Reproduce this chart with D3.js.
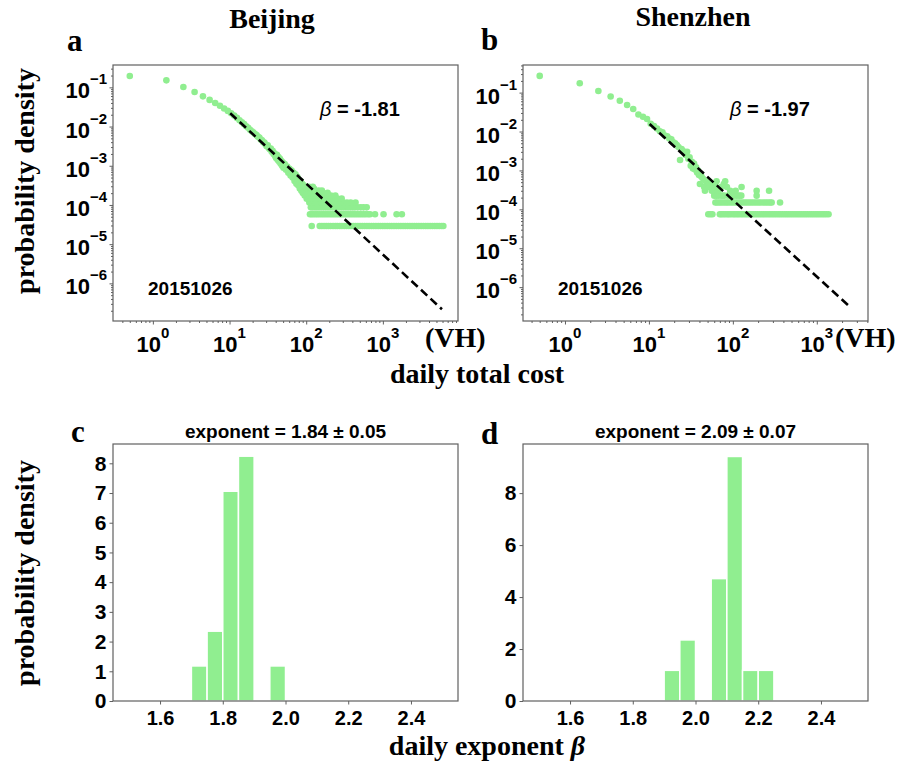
<!DOCTYPE html>
<html>
<head>
<meta charset="utf-8">
<script src="https://cdn.jsdelivr.net/npm/d3@7"></script>
<style>
  body { margin: 0; background: #fff; }
  svg { display: block; }
</style>
</head>
<body>
<svg id="chart"></svg>
<script>
// panel a: [daily total cost, probability density]
const beijingBody = [
  [0.5, 0.195], [1.5, 0.151], [2.5, 0.102], [3.5, 0.0759], [4.5, 0.0589], [5.5, 0.0479], [6.5, 0.0398], [7.5, 0.0339], [8.5, 0.0288], [9.5, 0.0251],
  [10.5, 0.0219], [11.5, 0.0191], [12.5, 0.0166], [13.5, 0.0145], [14.5, 0.0129], [15.5, 0.0115], [16.5, 0.0102], [17.5, 0.00933], [18.5, 0.00832], [19.5, 0.00759],
  [20.5, 0.00708], [21.5, 0.00646], [22.5, 0.00603], [23.5, 0.0055], [24.5, 0.00525], [25.5, 0.00468], [26.5, 0.00447], [27.5, 0.00398], [28.5, 0.00389], [29.5, 0.00347],
  [30.5, 0.00316], [31.5, 0.00331], [32.5, 0.00282], [33.5, 0.00263], [34.5, 0.00275], [35.5, 0.00229], [36.5, 0.0024], [37.5, 0.002], [38.5, 0.00209], [39.5, 0.00174],
  [40.5, 0.00158], [41.5, 0.00191], [42.5, 0.00141], [43.5, 0.00166], [44.5, 0.00126], [45.5, 0.00151], [46.5, 0.00112], [47.5, 0.00132], [48.5, 0.001], [49.5, 0.0012],
  [50.5, 0.000891], [52.5, 0.0011], [54.5, 0.000794], [56.5, 0.000955], [58.5, 0.000661], [60.5, 0.000832], [62.5, 0.000562], [64.5, 0.000759], [66.5, 0.000501], [68.5, 0.000661],
  [70.5, 0.000406], [72.5, 0.000603], [74.5, 0.000348], [76.5, 0.000525], [78.5, 0.000319], [80.5, 0.000435], [82.5, 0.000261], [84.5, 0.000406], [86.5, 0.000232], [88.5, 0.000348],
  [90.5, 0.000203], [92.5, 0.000319], [95.5, 0.000174], [98.5, 0.00029], [101.5, 0.000145], [104.5, 0.000261]
];
// tail: cost values sitting on each low-count density level
const beijingLevels = [2.9e-5, 5.8e-5, 8.7e-5, 1.16e-4, 1.45e-4, 1.74e-4, 2.03e-4, 2.32e-4, 2.61e-4, 2.9e-4];
const beijingRows = [
  [118, 150, 160, 171, 183, 195, 208, 224, 240, 255, 274, 292, 314, 336, 360, 384, 412, 441, 472, 505, 540, 578, 620, 662, 710, 758, 812, 870, 930, 996,
   1065, 1140, 1222, 1306, 1398, 1497, 1602, 1714, 1835, 1963, 2100, 2250, 2406, 2575, 2757, 2950, 3158, 3380, 3617, 3871, 4143, 4434, 4745, 5078, 5435, 5816, 6150],
  [112, 118, 125, 133, 141, 150, 160, 170, 181, 193, 206, 219, 233, 248, 264, 281, 299, 318, 339, 361, 384, 409, 435, 463, 493, 525, 559, 595, 640, 680, 790, 1020, 1510, 1770],
  [115, 122, 130, 138, 147, 157, 168, 180, 192, 205, 219, 234, 250, 268, 287, 307, 329, 352, 378, 405, 432, 470, 515, 560, 615],
  [110, 120, 131, 143, 156, 172, 188, 205, 226, 250, 277, 305, 340, 380, 440],
  [108, 117, 128, 140, 153, 168, 184, 203, 224, 255, 290],
  [105, 113, 124, 136, 150, 166, 182, 210, 240],
  [103, 111, 121, 133, 147, 163, 190],
  [107, 118, 130, 145, 160],
  [102, 115, 126],
  [109, 122]
];
const beijingFitCost = [10.2, 5900];
const beijingFitDensity = [0.0219, 2.19e-7];

// panel b
const shenzhenBody = [
  [0.5, 0.269], [1.5, 0.174], [2.5, 0.11], [3.5, 0.0794], [4.5, 0.0617], [5.5, 0.0479], [6.5, 0.038], [7.5, 0.0275], [8.5, 0.024], [9.5, 0.0209],
  [10.5, 0.0158], [11.5, 0.0138], [12.5, 0.012], [13.5, 0.0102], [14.5, 0.00955], [15.5, 0.00794], [16.5, 0.00759], [17.5, 0.00661], [18.5, 0.00631], [19.5, 0.00525],
  [20.5, 0.00501], [21.5, 0.00447], [22.5, 0.00398], [23.5, 0.00186], [24.5, 0.00355], [25.5, 0.00316], [26.5, 0.00275], [27.5, 0.00251], [28.5, 0.00302], [29.5, 0.002],
  [30.5, 0.00219], [31.5, 0.00132], [32.5, 0.00166], [33.5, 0.00112], [34.5, 0.00151], [35.5, 0.00105], [36.5, 0.0012], [37.5, 0.000891], [38.5, 0.001], [39.5, 0.000759],
  [40.5, 0.00045], [41.5, 0.000794], [42.5, 0.000675], [44.5, 0.0006], [45.5, 0.000375], [46.5, 0.0003], [47.5, 0.000525], [49.5, 0.00045], [51.5, 0.000525],
  [53.5, 0.000375], [56.5, 0.00045], [58.5, 0.0003], [62.5, 0.000375], [66.5, 0.0003]
];
const shenzhenLevels = [7.5e-5, 1.5e-4, 2.25e-4, 3e-4, 3.75e-4, 4.5e-4, 5.25e-4];
const shenzhenRows = [
  [51, 54, 57, 70, 73, 77, 81, 86, 90, 95, 101, 106, 112, 118, 125, 132, 140, 148, 157, 166, 176, 186, 197, 208, 220, 233, 247, 262, 277, 293,
   310, 328, 348, 368, 390, 413, 437, 463, 490, 519, 549, 582, 616, 652, 690, 731, 774, 820, 868, 919, 973, 1030, 1090, 1155, 1222, 1294, 1380],
  [62, 65, 69, 73, 78, 83, 88, 94, 100, 107, 114, 121, 129, 138, 147, 157, 167, 178, 190, 203, 216, 231, 246, 262, 278, 290, 365],
  [60, 64, 68, 74, 79, 88, 95, 102, 111, 119, 126, 192],
  [56, 67, 93, 108, 192, 270],
  [52, 72, 85, 127],
  [55, 78],
  [64, 81]
];
const shenzhenFitCost = [10.2, 2570];
const shenzhenFitDensity = [0.0156, 2.9e-7];

const costTicks = [1, 10, 100, 1000];
const densityTicks = [1e-1, 1e-2, 1e-3, 1e-4, 1e-5, 1e-6];

// panels c, d: histogram of daily exponents (bin start, density)
const binWidth = 0.05;
const beijingBinStart = [1.70, 1.75, 1.80, 1.85, 1.95];
const beijingBinDensity = [1.18, 2.35, 7.06, 8.24, 1.18];
const shenzhenBinStart = [1.90, 1.95, 2.05, 2.10, 2.15, 2.20];
const shenzhenBinDensity = [1.18, 2.35, 4.71, 9.41, 1.18, 1.18];
const exponentTicks = [1.6, 1.8, 2.0, 2.2, 2.4];

const sans = "'Liberation Sans', Arial, sans-serif";
const serif = "'Liberation Serif', 'Times New Roman', serif";
const green = "#90ee90";
const frameColor = "#606060";

const svg = d3.select("#chart").attr("width", 902).attr("height", 767);

function powerLabel(text, value) {
  const p = Math.round(Math.log10(value));
  text.append("tspan").text("10");
  text.append("tspan").attr("dy", -14).attr("font-size", 15).text(String(p).replace("-", "\u2212"));
}

function scatterPanel(left, top, xDomain, yDomain, body, levels, rows, fitCost, fitDensity, beta, betaX) {
  const w = 345, h = 256;
  const x = d3.scaleLog().domain(xDomain).range([left, left + w]);
  const y = d3.scaleLog().domain(yDomain).range([top + h, top]);
  const g = svg.append("g");

  const minorX = x.ticks().filter(d => !costTicks.includes(d));
  const minorY = y.ticks().filter(d => !densityTicks.some(t => Math.abs(t - d) < t * 1e-6));

  [[costTicks, 3.5], [minorX, 2]].forEach(([vals, size]) => {
    g.append("g")
      .attr("transform", `translate(0,${top + h})`)
      .attr("color", frameColor)
      .call(d3.axisBottom(x).tickValues(vals).tickSize(size).tickFormat(""))
      .call(a => a.select(".domain").remove());
  });
  [[densityTicks, 3.5], [minorY, 2]].forEach(([vals, size]) => {
    g.append("g")
      .attr("transform", `translate(${left},0)`)
      .attr("color", frameColor)
      .call(d3.axisLeft(y).tickValues(vals).tickSize(size).tickFormat(""))
      .call(a => a.select(".domain").remove());
  });

  g.selectAll(".xlab")
    .data(costTicks)
    .join("text")
    .attr("x", d => x(d))
    .attr("y", top + h + 31)
    .attr("text-anchor", "middle")
    .attr("font-family", sans).attr("font-weight", "bold").attr("font-size", 22)
    .each(function (d) { powerLabel(d3.select(this), d); });

  g.selectAll(".ylab")
    .data(densityTicks)
    .join("text")
    .attr("x", left - 6)
    .attr("y", d => y(d) + 11)
    .attr("text-anchor", "end")
    .attr("font-family", sans).attr("font-weight", "bold").attr("font-size", 22)
    .each(function (d) { powerLabel(d3.select(this), d); });

  const tail = rows.flatMap((row, i) => row.map(c => [c, levels[i]]));

  g.selectAll(".dot")
    .data(body.concat(tail))
    .join("circle")
    .attr("cx", d => x(d[0]))
    .attr("cy", d => y(d[1]))
    .attr("r", 3.3)
    .attr("fill", green);

  g.append("path")
    .datum(fitCost.map((c, i) => [c, fitDensity[i]]))
    .attr("d", d3.line().x(d => x(d[0])).y(d => y(d[1])))
    .attr("fill", "none")
    .attr("stroke", "#000")
    .attr("stroke-width", 2.6)
    .attr("stroke-dasharray", "8.5,4.5");

  g.append("rect")
    .attr("x", left).attr("y", top).attr("width", w).attr("height", h)
    .attr("fill", "none").attr("stroke", frameColor).attr("stroke-width", 1.2);

  const bt = g.append("text")
    .attr("x", betaX).attr("y", 116)
    .attr("font-family", sans).attr("font-size", 20);
  bt.append("tspan").attr("font-style", "italic").text("\u03b2");
  bt.append("tspan").attr("font-weight", "bold").text(" = " + beta);

  g.append("text")
    .attr("x", left + 35).attr("y", 295)
    .attr("font-family", sans).attr("font-weight", "bold").attr("font-size", 19)
    .text("20151026");

  g.append("text")
    .attr("x", left + w - 33).attr("y", 347)
    .attr("font-family", serif).attr("font-weight", "bold").attr("font-size", 28)
    .text("(VH)");
}

function histPanel(left, top, starts, dens, yMax, yTicks, title) {
  const w = 345, h = 257;
  const x = d3.scaleLinear().domain([1.45, 2.55]).range([left, left + w]);
  const y = d3.scaleLinear().domain([0, yMax]).range([top + h, top]);
  const g = svg.append("g");

  g.selectAll(".bar")
    .data(starts.map((s, i) => [s, dens[i]]))
    .join("rect")
    .attr("x", d => x(d[0]))
    .attr("y", d => y(d[1]))
    .attr("width", d => x(d[0] + binWidth) - x(d[0]))
    .attr("height", d => y(0) - y(d[1]))
    .attr("fill", green)
    .attr("stroke", "#fff")
    .attr("stroke-width", 1.5);

  g.append("g")
    .attr("transform", `translate(0,${top + h})`)
    .attr("color", frameColor)
    .call(d3.axisBottom(x).tickValues(exponentTicks).tickFormat(d3.format(".1f")).tickSize(3.5).tickPadding(6))
    .call(a => a.select(".domain").remove())
    .call(a => a.selectAll("text").attr("fill", "#000").attr("font-family", sans).attr("font-weight", "bold").attr("font-size", 20));

  g.append("g")
    .attr("transform", `translate(${left},0)`)
    .attr("color", frameColor)
    .call(d3.axisLeft(y).tickValues(yTicks).tickFormat(d3.format("d")).tickSize(3.5).tickPadding(3))
    .call(a => a.select(".domain").remove())
    .call(a => a.selectAll("text").attr("fill", "#000").attr("font-family", sans).attr("font-weight", "bold").attr("font-size", 21));

  g.append("rect")
    .attr("x", left).attr("y", top).attr("width", w).attr("height", h)
    .attr("fill", "none").attr("stroke", frameColor).attr("stroke-width", 1.2);

  g.append("text")
    .attr("x", left + w / 2).attr("y", top - 6)
    .attr("text-anchor", "middle")
    .attr("font-family", sans).attr("font-weight", "bold").attr("font-size", 19)
    .text(title);
}

scatterPanel(113, 65, [Math.pow(10, -0.52), Math.pow(10, 3.98)], [Math.pow(10, -6.96), Math.pow(10, -0.43)],
  beijingBody, beijingLevels, beijingRows, beijingFitCost, beijingFitDensity, "-1.81", 320);
scatterPanel(523, 65, [Math.pow(10, -0.5), Math.pow(10, 3.61)], [Math.pow(10, -6.87), Math.pow(10, -0.29)],
  shenzhenBody, shenzhenLevels, shenzhenRows, shenzhenFitCost, shenzhenFitDensity, "-1.97", 730);

histPanel(113, 444, beijingBinStart, beijingBinDensity, 8.65, [0, 1, 2, 3, 4, 5, 6, 7, 8], "exponent = 1.84 \u00b1 0.05");
histPanel(523, 444, shenzhenBinStart, shenzhenBinDensity, 9.89, [0, 2, 4, 6, 8], "exponent = 2.09 \u00b1 0.07");

// titles and shared labels
const serifText = (x, y, size, str) => svg.append("text")
  .attr("x", x).attr("y", y)
  .attr("font-family", serif).attr("font-weight", "bold").attr("font-size", size)
  .text(str);

serifText(272, 28, 28, "Beijing").attr("text-anchor", "middle");
serifText(693, 26, 28, "Shenzhen").attr("text-anchor", "middle");
serifText(67, 51, 31, "a");
serifText(481, 50, 31, "b");
serifText(71, 442, 31, "c");
serifText(481, 444, 31, "d");
serifText(0, 0, 28, "probability density").attr("text-anchor", "middle").attr("transform", "translate(34,181) rotate(-90)");
serifText(0, 0, 28, "probability density").attr("text-anchor", "middle").attr("transform", "translate(34,573) rotate(-90)");
serifText(477, 383, 28, "daily total cost").attr("text-anchor", "middle");

const xl = serifText(487, 755, 28, "daily exponent ").attr("text-anchor", "middle");
xl.append("tspan").attr("font-style", "italic").text("\u03b2");
</script>
</body>
</html>
